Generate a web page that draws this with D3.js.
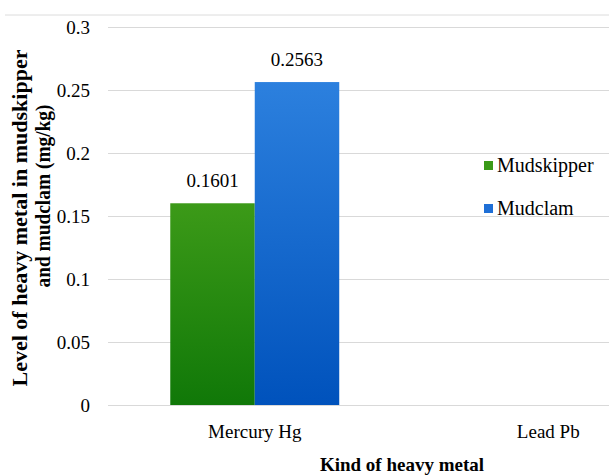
<!DOCTYPE html>
<html>
<head>
<meta charset="utf-8">
<script src="https://cdn.jsdelivr.net/npm/d3@7"></script>
<style>
  html, body { margin: 0; padding: 0; background: #fff; }
  svg { display: block; }
</style>
</head>
<body>
<svg id="chart" width="609" height="476"></svg>
<script>
// Heavy metal levels (mg/kg)
const categories = ["Mercury Hg", "Lead Pb"];
const series = ["Mudskipper", "Mudclam"];
const mudskipperValues = [0.1601, 0];
const mudclamValues = [0.2563, 0];
const yTicks = [0, 0.05, 0.1, 0.15, 0.2, 0.25, 0.3];
const yTickLabels = ["0", "0.05", "0.1", "0.15", "0.2", "0.25", "0.3"];

const valuesBySeries = { Mudskipper: mudskipperValues, Mudclam: mudclamValues };
const colors = {
  Mudskipper: { top: "#3c9a18", bottom: "#107808", key: "#3a9a18" },
  Mudclam:    { top: "#2c80de", bottom: "#0052bc", key: "#1f6fd6" }
};

const svg = d3.select("#chart");
const margin = { left: 108, top: 27, bottom: 405, right: 695 };

const x0 = d3.scaleBand().domain(categories).range([margin.left, margin.right]).padding(0);
const x1 = d3.scaleBand().domain(series).range([0, x0.bandwidth()]).paddingInner(0).paddingOuter(0.737);
const y = d3.scaleLinear().domain([0, 0.3]).range([margin.bottom, margin.top]);

function serif(sel, size, weight) {
  return sel.attr("font-family", "Liberation Serif, Tinos, Times New Roman, serif")
    .style("font-family", "Liberation Serif, Tinos, Times New Roman, serif")
    .style("font-size", size + "px")
    .style("font-weight", weight || "400").style("fill", "#000");
}

// gradients
const defs = svg.append("defs");
series.forEach(s => {
  const g = defs.append("linearGradient").attr("id", "grad-" + s)
    .attr("x1", 0).attr("y1", 0).attr("x2", 0).attr("y2", 1);
  g.append("stop").attr("offset", "0%").attr("stop-color", colors[s].top);
  g.append("stop").attr("offset", "100%").attr("stop-color", colors[s].bottom);
});

// rule above the chart
svg.append("line").attr("x1", 5).attr("x2", 609).attr("y1", 15).attr("y2", 15)
  .attr("stroke", "#dcdcdc").attr("stroke-width", 1);

// y axis with gridlines
const yAxis = d3.axisLeft(y)
  .tickValues(yTicks)
  .tickFormat((d, i) => yTickLabels[i])
  .tickSizeInner(-(margin.right - margin.left))
  .tickSizeOuter(0)
  .tickPadding(18);
const yg = svg.append("g").attr("transform", `translate(${margin.left},0)`).call(yAxis)
  .attr("font-family", null).attr("font-size", null);
yg.select(".domain").remove();
yg.selectAll(".tick line").attr("stroke", "#d9d9d9").attr("stroke-width", 1);
serif(yg.selectAll(".tick text"), 19).attr("dy", "0.34em");

// bars
const groups = svg.append("g").selectAll("g").data(categories).join("g")
  .attr("transform", d => `translate(${x0(d)},0)`);
groups.selectAll("rect")
  .data((c, i) => series.map(s => ({ s, v: valuesBySeries[s][i] })))
  .join("rect")
  .attr("x", d => x1(d.s))
  .attr("width", x1.bandwidth())
  .attr("y", d => y(d.v))
  .attr("height", d => y(0) - y(d.v))
  .attr("fill", d => `url(#grad-${d.s})`);

// value labels
const labels = groups.selectAll("text.val")
  .data((c, i) => series.map(s => ({ s, v: valuesBySeries[s][i] })).filter(d => d.v > 0))
  .join("text").attr("class", "val")
  .attr("x", d => x1(d.s) + x1.bandwidth() / 2)
  .attr("y", d => y(d.v) - 16)
  .attr("text-anchor", "middle")
  .text(d => d.v.toFixed(4));
serif(labels, 19);

// x axis labels
const xAxis = d3.axisBottom(x0).tickSize(0).tickPadding(20);
const xg = svg.append("g").attr("transform", `translate(0,${margin.bottom})`).call(xAxis)
  .attr("font-family", null).attr("font-size", null);
xg.select(".domain").remove();
serif(xg.selectAll(".tick text"), 19);

// axis titles
const xt = svg.append("text")
  .attr("x", 402).attr("y", 471)
  .attr("text-anchor", "middle")
  .text("Kind of heavy metal");
serif(xt, 19, "bold");

const yTitle = ["Level of heavy metal in mudskipper", "and mudclam (mg/kg)"];
const yTitlePos = [{ x: 27, y: 218, len: 337 }, { x: 50, y: 196, len: 183 }];
const yt = svg.selectAll("text.ytitle").data(yTitle).join("text").attr("class", "ytitle")
  .attr("transform", (d, i) => `translate(${yTitlePos[i].x},${yTitlePos[i].y}) rotate(-90)`)
  .attr("text-anchor", "middle")
  .attr("textLength", (d, i) => yTitlePos[i].len).attr("lengthAdjust", "spacingAndGlyphs")
  .text(d => d);
serif(yt, 20, "bold");

// legend
const legend = svg.append("g").selectAll("g").data(series).join("g")
  .attr("transform", (d, i) => `translate(484,${161 + i * 43})`);
legend.append("rect").attr("width", 9).attr("height", 9).attr("fill", d => colors[d].key);
serif(legend.append("text").attr("x", 13).attr("y", 11).text(d => d), 20);
</script>
</body>
</html>
